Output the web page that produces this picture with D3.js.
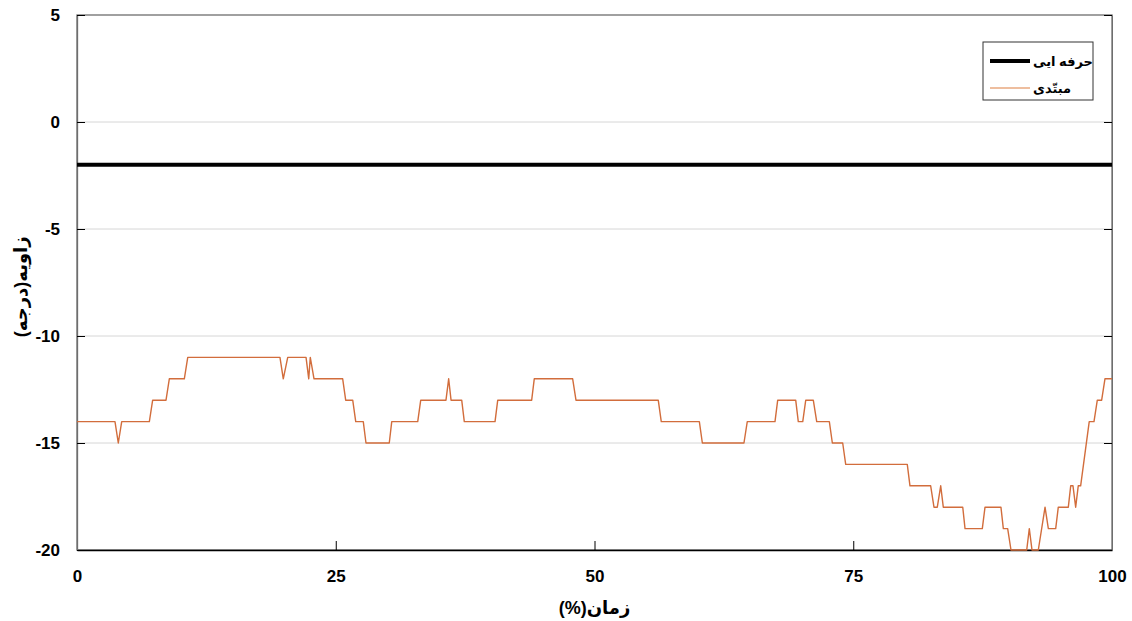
<!DOCTYPE html>
<html>
<head>
<meta charset="utf-8">
<script src="https://cdn.jsdelivr.net/npm/d3@7"></script>
<style>
  body { margin: 0; background: #fff; }
  svg { display: block; font-family: "Liberation Sans", "DejaVu Sans", Arial, sans-serif; }
</style>
</head>
<body>
<svg id="chart" width="1132" height="621"></svg>
<script>
"use strict";

// x in % of time, y in degrees
const noviceX = [0, 3.67, 3.99, 4.32, 6.99, 7.31, 8.60, 8.92, 10.37, 10.70, 19.61, 19.93, 20.36, 22.13, 22.39, 22.54,
    22.90, 25.67, 25.96, 26.64, 26.93, 27.66, 27.92, 30.17, 30.41, 32.92, 33.21, 35.65, 35.91, 36.14, 37.17, 37.42,
    40.39, 40.65, 43.93, 44.18, 47.89, 48.21, 56.16, 56.45, 60.13, 60.42, 64.44, 64.76, 67.44, 67.70, 69.44, 69.69,
    70.12, 70.41, 71.14, 71.47, 72.69, 72.98, 73.98, 74.27, 80.22, 80.48, 82.48, 82.80, 83.12, 83.45, 83.70, 85.58,
    85.80, 87.47, 87.73, 89.27, 89.50, 89.92, 90.24, 91.76, 92.01, 92.27, 92.88, 93.53, 93.85, 94.56, 94.81, 95.78,
    96.01, 96.23, 96.49, 96.74, 96.97, 97.80, 98.26, 98.58, 99.00, 99.32, 100];
const noviceY = [-14, -14, -15, -14, -14, -13, -13, -12, -12, -11, -11, -12, -11, -11, -12, -11,
    -12, -12, -13, -13, -14, -14, -15, -15, -14, -14, -13, -13, -12, -13, -13, -14,
    -14, -13, -13, -12, -12, -13, -13, -14, -14, -15, -15, -14, -14, -13, -13, -14,
    -14, -13, -13, -14, -14, -15, -15, -16, -16, -17, -17, -18, -18, -17, -18, -18,
    -19, -19, -18, -18, -19, -19, -20, -20, -19, -20, -20, -18, -19, -19, -18, -18,
    -17, -17, -18, -17, -17, -14, -14, -13, -13, -12, -12];

const proX = [0, 100];
const proY = [-2, -2];

const xTicks = [0, 25, 50, 75, 100];
const yTicks = [5, 0, -5, -10, -15, -20];
const legendLabels = ["حرفه ایی", "مبتّدی"];
const xTitle = "زمان(%)";
const yTitle = "زاویه(درجه)";

const svg = d3.select("#chart");
const margin = {left: 77, right: 20, top: 15, bottom: 71};
const W = 1132, H = 621;

const x = d3.scaleLinear().domain([0, 100]).range([margin.left, W - margin.right]);
const y = d3.scaleLinear().domain([-20, 5]).range([H - margin.bottom, margin.top]);

// grid lines
svg.append("g")
    .selectAll("line")
    .data(yTicks.filter(d => d > -20 && d < 5))
    .enter().append("line")
        .attr("x1", x(0)).attr("x2", x(100))
        .attr("y1", d => y(d)).attr("y2", d => y(d))
        .style("stroke", "#d6d6d6")
        .style("stroke-width", 1);

// frame
svg.append("rect")
    .attr("x", x(0)).attr("y", y(5))
    .attr("width", x(100) - x(0)).attr("height", y(-20) - y(5))
    .style("fill", "none")
    .style("stroke", "#6e6e6e")
    .style("stroke-width", 1.3);

const plain = d => String(d);

const xAxis = svg.append("g")
    .attr("transform", "translate(0," + y(-20) + ")")
    .call(d3.axisBottom(x).tickValues(xTicks).tickFormat(plain).tickSizeInner(-9).tickSizeOuter(0).tickPadding(20));

const yAxis = svg.append("g")
    .attr("transform", "translate(" + x(0) + ",0)")
    .call(d3.axisLeft(y).tickValues(yTicks).tickFormat(plain).tickSizeInner(-8).tickSizeOuter(0).tickPadding(17));

svg.append("g")
    .attr("transform", "translate(" + x(100) + ",0)")
    .call(d3.axisRight(y).tickValues(yTicks).tickSizeInner(-8).tickSizeOuter(0).tickFormat(""))
    .select(".domain").style("stroke", "#6e6e6e");

xAxis.select(".domain").style("stroke", "#000").style("stroke-width", 1.5);
yAxis.select(".domain").style("stroke", "#6e6e6e").style("stroke-width", 1.3);

svg.selectAll(".tick text")
    .style("font-family", "Liberation Sans, Arial, sans-serif")
    .style("font-size", "17px")
    .style("font-weight", "bold")
    .style("fill", "#000");
svg.selectAll(".tick line").style("stroke", "#000");

// lines
const line = d3.line().x(d => x(d[0])).y(d => y(d[1]));

svg.append("path")
    .datum(proX.map((v, i) => [v, proY[i]]))
    .attr("d", line)
    .style("fill", "none")
    .style("stroke", "#000")
    .style("stroke-width", 4);

svg.append("path")
    .datum(noviceX.map((v, i) => [v, noviceY[i]]))
    .attr("d", line)
    .style("fill", "none")
    .style("stroke", "#d26d3c")
    .style("stroke-width", 1.4)
    .style("stroke-linejoin", "round");

// axis titles
svg.append("text")
    .attr("x", x(50)).attr("y", 614)
    .attr("direction", "rtl")
    .attr("text-anchor", "middle")
    .style("font-size", "18px")
    .style("font-weight", "bold")
    .text(xTitle);

svg.append("text")
    .attr("transform", "translate(27," + y(-7.7) + ") rotate(-90)")
    .attr("direction", "rtl")
    .attr("text-anchor", "middle")
    .style("font-size", "18px")
    .style("font-weight", "bold")
    .text(yTitle);

// legend
const legend = svg.append("g").attr("transform", "translate(983,42)");
legend.append("rect")
    .attr("width", 110).attr("height", 58)
    .style("fill", "#fff")
    .style("stroke", "#333")
    .style("stroke-width", 1);

const legendStyles = [{c: "#000", w: 4}, {c: "#e8a87f", w: 1.4}];
legendStyles.forEach(function(s, i) {
    const yy = 19 + i * 27;
    legend.append("line")
        .attr("x1", 7).attr("x2", 47)
        .attr("y1", yy).attr("y2", yy)
        .style("stroke", s.c)
        .style("stroke-width", s.w);
    legend.append("text")
        .attr("x", 50).attr("y", yy + 5)
        .attr("text-anchor", "start")
        .style("font-size", "13px")
        .style("font-weight", "bold")
        .text(legendLabels[i]);
});
</script>
</body>
</html>
